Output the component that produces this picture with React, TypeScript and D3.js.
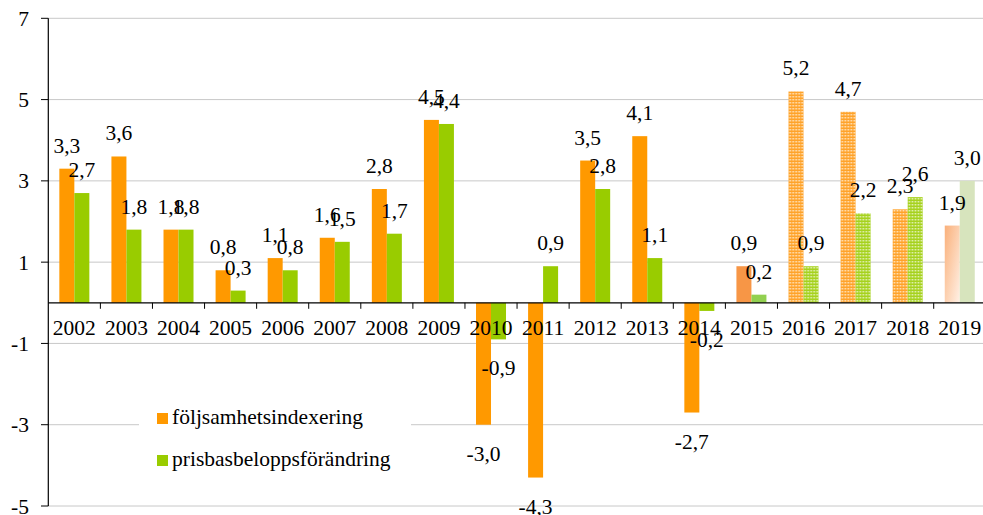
import React from 'react';
import * as d3 from 'd3';

const years = ['2002', '2003', '2004', '2005', '2006', '2007', '2008', '2009', '2010', '2011', '2012', '2013', '2014', '2015', '2016', '2017', '2018', '2019'];
const foljsamhet = [3.3, 3.6, 1.8, 0.8, 1.1, 1.6, 2.8, 4.5, -3.0, -4.3, 3.5, 4.1, -2.7, 0.9, 5.2, 4.7, 2.3, 1.9];
const prisbas = [2.7, 1.8, 1.8, 0.3, 0.8, 1.5, 1.7, 4.4, -0.9, 0.9, 2.8, 1.1, -0.2, 0.2, 0.9, 2.2, 2.6, 3.0];
const seriesNames = ['följsamhetsindexering', 'prisbasbeloppsförändring'];
const yTicks = [-5, -3, -1, 1, 3, 5, 7];

const W = 983;
const H = 515;
const FONT = "'Liberation Serif', 'Times New Roman', Times, serif";

const ORANGE = '#FF9900';
const GREEN = '#99CC00';

// fill for each year/series, the later years are drawn as forecasts
function fillFor(year: string, s: number) {
  const y = +year;
  if (y <= 2014) return s === 0 ? ORANGE : GREEN;
  if (y === 2015) return s === 0 ? '#F79646' : '#92D050';
  if (y <= 2018) return s === 0 ? 'url(#dotOrange)' : 'url(#dotGreen)';
  return s === 0 ? 'url(#fadeOrange)' : '#D7E4BD';
}

const fmt = (v: number) => d3.format('.1f')(v).replace('.', ',').replace('\u2212', '-');

export default function App() {
  const x0 = d3.scaleBand<string>().domain(years).range([48.3, 985.8]).padding(0);
  const x1 = d3.scaleBand<number>().domain([0, 1]).range([0, x0.bandwidth()]).paddingInner(0).paddingOuter(0.736);
  const y = d3.scaleLinear().domain([-5, 7]).range([506, 18.3]);
  const y0 = y(0);

  const rows = years.map((yr, i) => ({ yr, vals: [foljsamhet[i], prisbas[i]] }));
  const txt = { fontFamily: FONT, fontSize: 21.5 };

  return (
    <svg width={W} height={H} style={{ position: 'absolute', left: 0, top: 0, background: '#fff', fontFamily: FONT }}>
      <defs>
        <pattern id="dotOrange" width={3} height={3} patternUnits="userSpaceOnUse">
          <rect width={3} height={3} fill="#FFA32A" />
          <rect width={1.5} height={1.5} fill="#fff" opacity={0.75} />
        </pattern>
        <pattern id="dotGreen" width={3} height={3} patternUnits="userSpaceOnUse">
          <rect width={3} height={3} fill="#A6D21E" />
          <rect width={1.5} height={1.5} fill="#fff" opacity={0.75} />
        </pattern>
        <linearGradient id="fadeOrange" x1="0" y1="0" x2="1" y2="1">
          <stop offset="0" stopColor="#FAB07A" />
          <stop offset="1" stopColor="#FFF1E6" />
        </linearGradient>
      </defs>

      {/* gridlines */}
      {yTicks.map(t => (
        <line key={'g' + t} x1={48.3} x2={W} y1={y(t)} y2={y(t)} stroke="#C8C8C8" strokeWidth={1} />
      ))}

      {/* bars */}
      {rows.map(r => (
        <g key={r.yr} transform={`translate(${x0(r.yr)},0)`}>
          {r.vals.map((v, s) => (
            <rect
              key={s}
              x={x1(s)}
              width={x1.bandwidth()}
              y={Math.min(y(v), y0)}
              height={Math.abs(y(v) - y0)}
              fill={fillFor(r.yr, s)}
            />
          ))}
        </g>
      ))}

      {/* y axis */}
      <line x1={48.3} x2={48.3} y1={y(7)} y2={y(-5)} stroke="#000" strokeWidth={1.2} />
      {yTicks.map(t => (
        <g key={'t' + t}>
          <line x1={41} x2={48.3} y1={y(t)} y2={y(t)} stroke="#000" />
          <text x={29} y={y(t)} dy="0.35em" textAnchor="end" style={txt}>{t}</text>
        </g>
      ))}

      {/* zero axis with category labels */}
      <line x1={48.3} x2={W} y1={y0} y2={y0} stroke="#000" strokeWidth={1.2} />
      {years.map(yr => (
        <g key={'c' + yr}>
          <line x1={x0(yr)! + x0.bandwidth()} x2={x0(yr)! + x0.bandwidth()} y1={y0} y2={y0 + 6} stroke="#000" />
          <text x={x0(yr)! + x0.bandwidth() / 2} y={y0 + 32} textAnchor="middle" style={txt}>{yr}</text>
        </g>
      ))}

      {/* value labels */}
      {rows.map(r =>
        r.vals.map((v, s) => (
          <text
            key={'l' + r.yr + s}
            x={x0(r.yr)! + x1(s)! + x1.bandwidth() / 2}
            y={v >= 0 ? y(v) - 16 : y(v) + 36}
            textAnchor="middle"
            style={txt}
          >
            {fmt(v)}
          </text>
        ))
      )}

      {/* legend */}
      <rect x={139} y={400} width={272} height={82} fill="#fff" />
      {seriesNames.map((name, i) => (
        <g key={name} transform={`translate(157,${413 + i * 42})`}>
          <rect width={11} height={11} fill={i === 0 ? ORANGE : GREEN} />
          <text x={15} y={11} style={txt}>{name}</text>
        </g>
      ))}
    </svg>
  );
}
